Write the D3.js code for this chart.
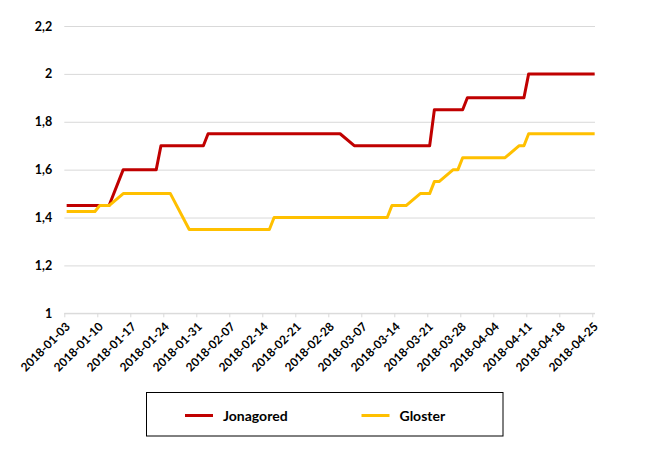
<!DOCTYPE html>
<html>
<head>
<meta charset="utf-8">
<script src="https://cdn.jsdelivr.net/npm/d3@7"></script>
<style>
  html, body { margin: 0; padding: 0; background: #fff; }
  svg { display: block; }
  text { font-family: Lato, "Liberation Sans", sans-serif; font-weight: bold; fill: #000; }
</style>
</head>
<body>
<svg id="chart" width="649" height="449"></svg>
<script>
// ---- data ----
const xTickLabels = ['2018-01-03','2018-01-10','2018-01-17','2018-01-24','2018-01-31','2018-02-07','2018-02-14','2018-02-21','2018-02-28','2018-03-07','2018-03-14','2018-03-21','2018-03-28','2018-04-04','2018-04-11','2018-04-18','2018-04-25'];
const yTickValues = [1, 1.2, 1.4, 1.6, 1.8, 2, 2.2];
const seriesNames = ['Jonagored', 'Gloster'];
const seriesColors = ['#C00000', '#FFC000'];

const jonagoredDates = ['2018-01-03','2018-01-12','2018-01-15','2018-01-22','2018-01-23','2018-02-01','2018-02-02','2018-03-02','2018-03-05','2018-03-21','2018-03-22','2018-03-28','2018-03-29','2018-04-10','2018-04-11','2018-04-25'];
const jonagoredValues = [1.45, 1.45, 1.6, 1.6, 1.7, 1.7, 1.75, 1.75, 1.7, 1.7, 1.85, 1.85, 1.9, 1.9, 2.0, 2.0];

const glosterDates = ['2018-01-03','2018-01-09','2018-01-10','2018-01-12','2018-01-15','2018-01-25','2018-01-29','2018-02-15','2018-02-16','2018-03-12','2018-03-13','2018-03-16','2018-03-19','2018-03-21','2018-03-22','2018-03-23','2018-03-26','2018-03-27','2018-03-28','2018-04-06','2018-04-09','2018-04-10','2018-04-11','2018-04-25'];
const glosterValues = [1.425, 1.425, 1.45, 1.45, 1.5, 1.5, 1.35, 1.35, 1.4, 1.4, 1.45, 1.45, 1.5, 1.5, 1.55, 1.55, 1.6, 1.6, 1.65, 1.65, 1.7, 1.7, 1.75, 1.75];

// ---- chart ----
const parse = d3.utcParse('%Y-%m-%d');
const svg = d3.select('#chart');

const plotLeft = 64.3, plotRight = 595, plotTop = 26, plotBottom = 313.3;

const x = d3.scaleUtc()
  .domain([parse(xTickLabels[0]), parse(xTickLabels[xTickLabels.length - 1])])
  .range([plotLeft, 592.3]);
const y = d3.scaleLinear().domain([1, 2.2]).range([plotBottom, plotTop]);

// horizontal gridlines + y labels
const yAxis = d3.axisLeft(y)
  .tickValues(yTickValues)
  .tickSize(-(plotRight - plotLeft))
  .tickPadding(12)
  .tickFormat(d => String(d).replace('.', ','));
const gy = svg.append('g').attr('transform', `translate(${plotLeft},0)`).call(yAxis);
gy.select('.domain').remove();
gy.selectAll('.tick line').attr('stroke', '#d9d9d9').attr('stroke-width', 1);
gy.selectAll('.tick text').attr('font-size', 12.5).attr('font-family', 'Lato, sans-serif').attr('font-weight', 'bold').attr('fill', '#000');

// x axis
const xAxis = d3.axisBottom(x)
  .tickValues(xTickLabels.map(parse))
  .tickSize(4)
  .tickFormat(d3.utcFormat('%Y-%m-%d'));
const gx = svg.append('g').attr('transform', `translate(0,${plotBottom})`).call(xAxis);
gx.select('.domain').remove();
gx.append('line').attr('x1', plotLeft).attr('x2', plotRight).attr('y1', 0).attr('y2', 0)
  .attr('stroke', '#d9d9d9').attr('stroke-width', 1);
gx.selectAll('.tick line').attr('stroke', '#d9d9d9');
gx.selectAll('.tick text')
  .attr('font-size', 11.8).attr('font-family', 'Lato, sans-serif').attr('font-weight', 'bold').attr('fill', '#000')
  .attr('text-anchor', 'end')
  .attr('x', 0).attr('y', 0).attr('dy', 0)
  .attr('transform', 'translate(6,14) rotate(-45)');

// lines (points at the middle of each date slot)
const mid = s => d3.utcHour.offset(parse(s), 12);
const line = d3.line().x(d => x(mid(d.date))).y(d => y(d.value));
const series = [
  { name: seriesNames[0], color: seriesColors[0], data: jonagoredDates.map((d, i) => ({ date: d, value: jonagoredValues[i] })) },
  { name: seriesNames[1], color: seriesColors[1], data: glosterDates.map((d, i) => ({ date: d, value: glosterValues[i] })) }
];
// series drawn in order: Gloster ends up on top where they overlap
series.forEach(s => {
  svg.append('path').datum(s.data)
    .attr('d', line)
    .attr('fill', 'none')
    .attr('stroke', s.color)
    .attr('stroke-width', 3)
    .attr('stroke-linejoin', 'round');
});

// legend
const lg = svg.append('g');
lg.append('rect').attr('x', 146.5).attr('y', 392.5).attr('width', 356.5).attr('height', 43.5)
  .attr('fill', 'none').attr('stroke', '#000').attr('stroke-width', 1);
const legendX = [185, 361.5];
series.forEach((s, i) => {
  lg.append('line').attr('x1', legendX[i]).attr('x2', legendX[i] + 28)
    .attr('y1', 415.5).attr('y2', 415.5).attr('stroke', s.color).attr('stroke-width', 3);
  lg.append('text').attr('x', legendX[i] + 38).attr('y', 420.5)
    .attr('font-size', 14).text(s.name);
});
</script>
</body>
</html>
